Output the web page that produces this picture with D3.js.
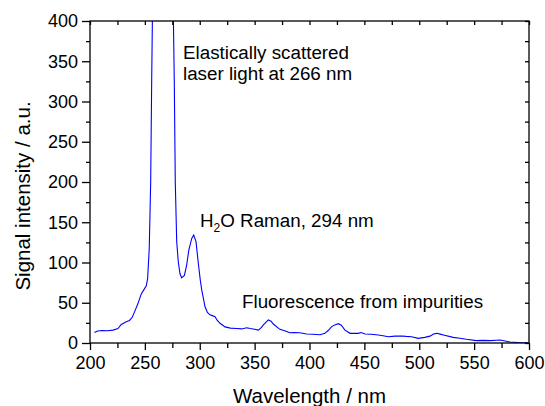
<!DOCTYPE html>
<html>
<head>
<meta charset="utf-8">
<script src="https://cdn.jsdelivr.net/npm/d3@7"></script>
<style>
  body { margin: 0; background: #fff; }
  text { font-family: "Liberation Sans", Arial, sans-serif; fill: #000; }
</style>
</head>
<body>
<div id="chart"></div>
<script>
// spectrum (nm, a.u.); the laser peak runs off the top
const wavelength = [204, 207, 211, 216, 221, 225.5, 228.5, 233, 236, 238.5, 240.7, 243.7, 246.7, 249, 251.3, 252.5, 254, 255.3, 256.2, 257, 262, 270, 275.8, 276.8, 277.7, 279, 280.5, 282, 283.5, 286, 288, 290, 292.7, 294.5, 296.6, 298.7, 300.5, 301.8, 304.8, 307, 309.3, 311.5, 313.9, 316, 318.5, 323, 328, 333.7, 338, 342.8, 346, 350, 353.4, 356, 358, 362.5, 365, 367, 373, 378, 382, 386, 391, 397.4, 403, 409.6, 414, 417, 420, 423, 426.2, 429, 432.3, 437, 444.5, 447, 450.6, 456, 462.7, 467, 471.8, 478, 484, 488, 493, 499, 505, 509.8, 513, 516, 519, 522, 531, 537, 543, 552, 558, 564.5, 570, 573.6, 576, 582.7, 590, 600];
const intensity = [13, 15, 15.5, 15.3, 16, 18, 23, 26.5, 28, 32, 39, 49, 61, 66, 71, 80, 118, 200, 325, 420, 1500, 1500, 420, 325, 200, 126, 100, 86, 81, 84, 96, 115, 130, 134, 126, 99, 78, 66, 45, 38, 35, 34, 32.7, 28, 24.5, 20, 18.5, 18, 17.5, 19, 18, 17, 16, 19, 22.4, 28.6, 27, 23.6, 17, 15, 12.8, 13, 12.8, 11.2, 10.8, 10.3, 12, 15.5, 20, 22.5, 24, 22, 16, 12, 12, 13, 11.2, 10.8, 10, 9, 7.8, 8.5, 8.7, 8.2, 7.8, 5.8, 7, 8.5, 11.2, 12, 11, 10, 7, 6, 4.6, 2.9, 3.2, 2.9, 3.5, 3.7, 3, 1.2, 0.6, 0.4];

const xTicks = [200, 250, 300, 350, 400, 450, 500, 550, 600];
const yTicks = [0, 50, 100, 150, 200, 250, 300, 350, 400];

const width = 545, height = 406;
const margin = { top: 21, right: 16, bottom: 63, left: 90 };

const svg = d3.select("#chart").append("svg")
  .attr("width", width).attr("height", height);

const x = d3.scaleLinear().domain([200, 600]).range([margin.left, width - margin.right]);
const y = d3.scaleLinear().domain([0, 400]).range([height - margin.bottom, margin.top]);

svg.append("clipPath").attr("id", "plot-clip")
  .append("rect")
  .attr("x", x(200)).attr("y", y(400))
  .attr("width", x(600) - x(200)).attr("height", y(0) - y(400));

const points = wavelength.map((w, i) => [w, intensity[i]]);

svg.append("path")
  .datum(points)
  .attr("clip-path", "url(#plot-clip)")
  .attr("fill", "none")
  .attr("stroke", "#0000ff")
  .attr("stroke-width", 1.1)
  .attr("d", d3.line().x(d => x(d[0])).y(d => y(d[1])));

// minor ticks every 25
const xMinor = d3.range(225, 600, 50);
const yMinor = d3.range(25, 400, 50);
const all25x = d3.range(200, 601, 25);
const all25y = d3.range(0, 401, 25);

const axisStyle = g => {
  g.select(".domain").remove();
  g.selectAll(".tick line").attr("stroke", "#000").attr("stroke-width", 1.3);
  g.selectAll(".tick text").attr("font-size", 18).attr("font-family", "Liberation Sans, Arial, sans-serif").attr("fill", "#000");
};

// bottom
svg.append("g")
  .attr("transform", `translate(0,${y(0)})`)
  .call(d3.axisBottom(x).tickValues(xTicks).tickSize(7).tickPadding(6).tickFormat(d3.format("d")))
  .call(axisStyle);
svg.append("g")
  .attr("transform", `translate(0,${y(0)})`)
  .call(d3.axisBottom(x).tickValues(xMinor).tickSize(5).tickFormat(""))
  .call(axisStyle);

// left
svg.append("g")
  .attr("transform", `translate(${x(200)},0)`)
  .call(d3.axisLeft(y).tickValues(yTicks).tickSize(8).tickPadding(4).tickFormat(d3.format("d")))
  .call(axisStyle);
svg.append("g")
  .attr("transform", `translate(${x(200)},0)`)
  .call(d3.axisLeft(y).tickValues(yMinor).tickSize(4).tickFormat(""))
  .call(axisStyle);

// top and right, ticks pointing inward
svg.append("g")
  .attr("transform", `translate(0,${y(400)})`)
  .call(d3.axisTop(x).tickValues(all25x).tickSize(-4).tickFormat(""))
  .call(axisStyle);
svg.append("g")
  .attr("transform", `translate(${x(600)},0)`)
  .call(d3.axisRight(y).tickValues(all25y).tickSize(-4).tickFormat(""))
  .call(axisStyle);

// frame
svg.append("rect")
  .attr("x", x(200)).attr("y", y(400))
  .attr("width", x(600) - x(200)).attr("height", y(0) - y(400))
  .attr("fill", "none").attr("stroke", "#000").attr("stroke-width", 1.3);

// axis titles
svg.append("text")
  .attr("x", (x(200) + x(600)) / 2).attr("y", 403)
  .attr("text-anchor", "middle").attr("font-size", 20.5)
  .text("Wavelength / nm");

svg.append("text")
  .attr("transform", `translate(30,196) rotate(-90)`)
  .attr("text-anchor", "middle").attr("font-size", 20.5)
  .text("Signal intensity / a.u.");

// annotations
const note = svg.append("g").attr("font-size", 18.8);
note.append("text").attr("x", 183).attr("y", 59).text("Elastically scattered");
note.append("text").attr("x", 183).attr("y", 80).text("laser light at 266 nm");

const raman = note.append("text").attr("x", 200).attr("y", 227);
raman.append("tspan").text("H");
raman.append("tspan").attr("font-size", 12).attr("dy", 5).text("2");
raman.append("tspan").attr("dy", -5).text("O Raman, 294 nm");

note.append("text").attr("x", 242).attr("y", 308).text("Fluorescence from impurities");
</script>
</body>
</html>
